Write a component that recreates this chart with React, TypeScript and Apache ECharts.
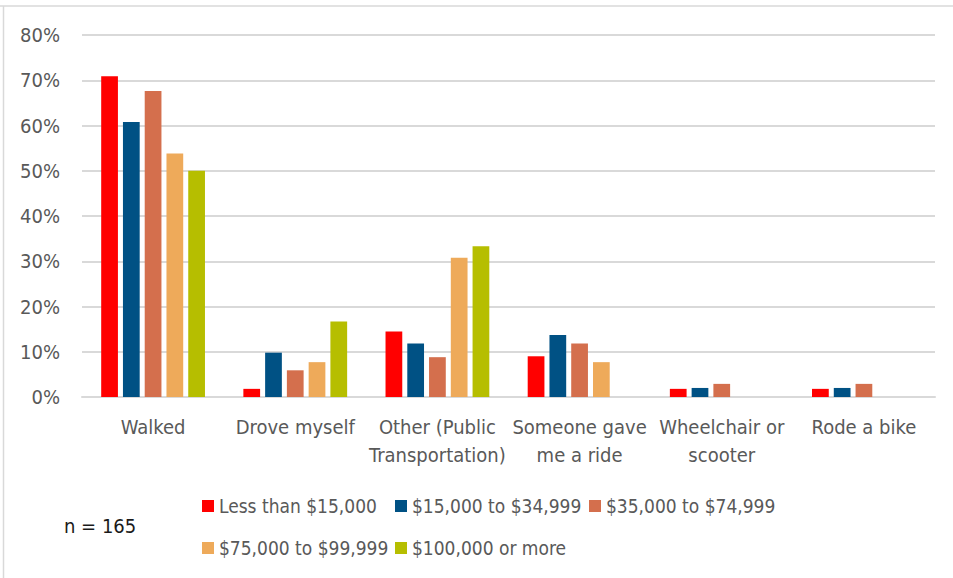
import React, { useEffect, useRef } from "react";
import * as echarts from "echarts";

const categories = [
  "Walked",
  "Drove myself",
  "Other (Public\nTransportation)",
  "Someone gave\nme a ride",
  "Wheelchair or\nscooter",
  "Rode a bike",
];

const seriesNames = [
  "Less than $15,000",
  "$15,000 to $34,999",
  "$35,000 to $74,999",
  "$75,000 to $99,999",
  "$100,000 or more",
];

const lessThan15k = [70.9, 1.8, 14.5, 9.0, 1.8, 1.8];
const from15kTo35k = [60.8, 9.8, 11.8, 13.7, 2.0, 2.0];
const from35kTo75k = [67.6, 5.9, 8.8, 11.8, 2.9, 2.9];
const from75kTo100k = [53.8, 7.7, 30.8, 7.7, 0, 0];
const over100k = [50.0, 16.7, 33.3, 0, 0, 0];

const yTicks = [0, 10, 20, 30, 40, 50, 60, 70, 80];

const colors = ["#FF0000", "#005184", "#D46F4D", "#EEAA5A", "#B6BE00"];

const FONT = "'Liberation Sans Narrow', 'Arial Narrow', 'DejaVu Sans Condensed', sans-serif";

// legend grid cells (column x, row y) in the Excel-style legend
const legendCells = [
  [202, 496],
  [395, 496],
  [589, 496],
  [202, 538],
  [395, 538],
];

export default function App() {
  const ref = useRef<HTMLDivElement>(null);
  useEffect(() => {
    if (!ref.current) return;
    const chart = echarts.init(ref.current, undefined, { renderer: "svg" });
    const allData = [lessThan15k, from15kTo35k, from35kTo75k, from75kTo100k, over100k];
    const legendText = { color: "#595959", fontSize: 19, lineHeight: 20, fontFamily: FONT };
    chart.setOption({
      animation: false,
      backgroundColor: "#ffffff",
      textStyle: { fontFamily: FONT },
      grid: { left: 82, right: 18, top: 35, bottom: 181, containLabel: false },
      legend: seriesNames.map((name, i) => ({
        data: [name],
        left: legendCells[i][0],
        top: legendCells[i][1],
        padding: 0,
        itemWidth: 12,
        itemHeight: 12,
        itemGap: 0,
        icon: "rect",
        textStyle: legendText,
      })),
      xAxis: {
        type: "category",
        data: categories,
        axisLine: { show: true, lineStyle: { color: "#D9D9D9", width: 2 } },
        axisTick: { show: false },
        axisLabel: {
          color: "#595959",
          fontSize: 20,
          fontFamily: FONT,
          margin: 16,
          lineHeight: 28,
          interval: 0,
        },
      },
      yAxis: {
        type: "value",
        min: yTicks[0],
        max: yTicks[yTicks.length - 1],
        interval: 10,
        axisLine: { show: false },
        axisTick: { show: false },
        splitLine: { lineStyle: { color: "#D9D9D9", width: 2 } },
        axisLabel: {
          color: "#595959",
          fontSize: 20,
          fontFamily: FONT,
          margin: 22,
          formatter: (v: number) => `${v}%`,
        },
      },
      series: seriesNames.map((name, i) => ({
        name,
        type: "bar",
        data: allData[i],
        barGap: "30%",
        barCategoryGap: "27%",
        itemStyle: { color: colors[i] },
      })),
      graphic: [
        {
          type: "line",
          shape: { x1: 0, y1: 6, x2: 953, y2: 6 },
          style: { stroke: "#D9D9D9", lineWidth: 1.5 },
        },
        {
          type: "line",
          shape: { x1: 3.5, y1: 6, x2: 3.5, y2: 578 },
          style: { stroke: "#D9D9D9", lineWidth: 1.5 },
        },
        {
          type: "text",
          left: 64,
          top: 516,
          style: { text: "n = 165", fill: "#1A1A1A", fontSize: 20, fontFamily: FONT },
        },
      ],
    });
    return () => chart.dispose();
  }, []);
  return (
    <div
      ref={ref}
      style={{ position: "absolute", left: 0, top: 0, width: 953, height: 578 }}
    />
  );
}
